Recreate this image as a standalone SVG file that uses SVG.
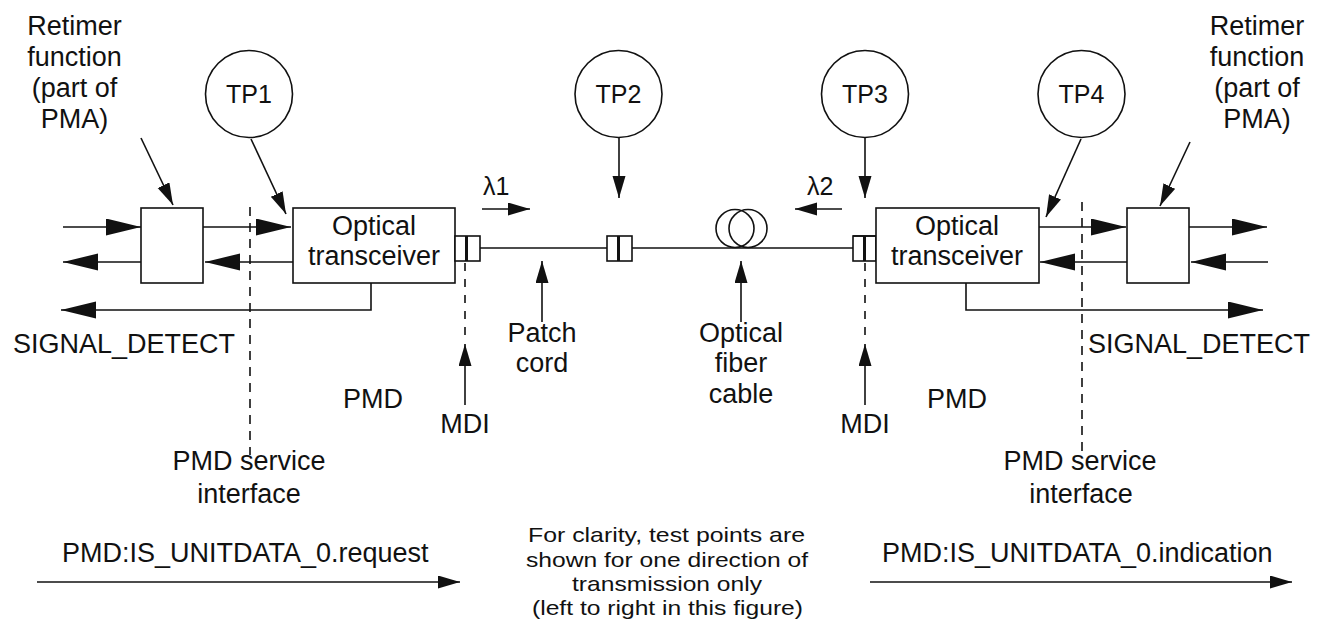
<svg xmlns="http://www.w3.org/2000/svg" width="1317" height="619" viewBox="0 0 1317 619">
<style>
text{font-family:"Liberation Sans",Arial,sans-serif;font-size:27px;fill:#111}
.c{text-anchor:middle}
.tp{font-size:25px}
.note{font-size:21px}
.ln{fill:none;stroke:#111;stroke-width:1.6}
.box{fill:#fff;stroke:#111;stroke-width:1.6}
.dash{fill:none;stroke:#111;stroke-width:1.6;stroke-dasharray:9,7}
.bar{stroke:#111;stroke-width:3}
.big{marker-end:url(#big)}
.med{marker-end:url(#med)}
</style>
<defs>
<marker id="big" markerUnits="userSpaceOnUse" markerWidth="36" markerHeight="18" refX="35" refY="8.5" orient="auto"><path d="M0,0 L35,8.5 L0,17 z" fill="#111"/></marker>
<marker id="med" markerUnits="userSpaceOnUse" markerWidth="24" markerHeight="14" refX="22" refY="6.5" orient="auto"><path d="M0,0 L22,6.5 L0,13 z" fill="#111"/></marker>
</defs>
<rect width="1317" height="619" fill="#fff"/>

<g id="connectors">
<!-- left retimer / transceiver -->
<line class="ln big" x1="63" y1="227" x2="141" y2="227"/>
<line class="ln big" x1="141" y1="262" x2="63" y2="262"/>
<line class="ln big" x1="203" y1="227" x2="291" y2="227"/>
<line class="ln big" x1="293" y1="262" x2="205" y2="262"/>
<path class="ln big" d="M371,283 V310 H61"/>
<!-- right retimer / transceiver -->
<line class="ln big" x1="1039" y1="227" x2="1126" y2="227"/>
<line class="ln big" x1="1189" y1="227" x2="1267" y2="227"/>
<line class="ln big" x1="1268" y1="262" x2="1191" y2="262"/>
<line class="ln big" x1="1127" y1="262" x2="1040" y2="262"/>
<path class="ln big" d="M966,283 V310 H1263"/>
<!-- test point pointers -->
<line class="ln med" x1="251" y1="139" x2="286" y2="214"/>
<line class="ln med" x1="141" y1="138" x2="173" y2="205"/>
<line class="ln med" x1="619" y1="138" x2="619" y2="198"/>
<line class="ln med" x1="865" y1="138" x2="865" y2="198"/>
<line class="ln med" x1="1081" y1="139" x2="1046" y2="217"/>
<line class="ln med" x1="1190" y1="142" x2="1160" y2="206"/>
<!-- wavelength arrows -->
<line class="ln med" x1="482" y1="209" x2="530" y2="209"/>
<line class="ln med" x1="842" y1="209" x2="795" y2="209"/>
<!-- label pointers -->
<line class="ln med" x1="542" y1="322" x2="542" y2="261"/>
<line class="ln med" x1="741" y1="322" x2="741" y2="261"/>
<line class="ln med" x1="465" y1="405" x2="465" y2="344"/>
<line class="ln med" x1="865" y1="405" x2="865" y2="344"/>
<!-- dashed interface lines -->
<line class="dash" x1="250" y1="207" x2="250" y2="455"/>
<line class="dash" x1="1082" y1="202" x2="1082" y2="455"/>
<line class="dash" x1="465" y1="263" x2="465" y2="336" style="stroke-dasharray:8,8"/>
<line class="dash" x1="865" y1="263" x2="865" y2="336" style="stroke-dasharray:8,8"/>
<!-- fiber -->
<line class="ln" x1="480" y1="248" x2="607" y2="248"/>
<line class="ln" x1="632" y1="248" x2="853" y2="248"/>
<!-- service primitives -->
<line class="ln med" x1="37" y1="582" x2="460" y2="582"/>
<line class="ln med" x1="870" y1="582" x2="1292" y2="582"/>
</g>

<g id="retimer-left"><rect class="box" x="141" y="208" width="62" height="75"/></g>
<g id="transceiver-left"><rect class="box" x="293" y="208" width="162" height="75"/>
<text class="c" x="374" y="235">Optical</text><text class="c" x="374" y="265">transceiver</text></g>
<g id="mdi-left"><rect class="box" x="455" y="236" width="25" height="25"/><line class="bar" x1="466.5" y1="236" x2="466.5" y2="261"/></g>
<g id="connector-mid"><rect class="box" x="607" y="236" width="25" height="25"/><line class="bar" x1="618.5" y1="236" x2="618.5" y2="261"/></g>
<g id="mdi-right"><rect class="box" x="853" y="236" width="23" height="25"/><line class="ln" x1="853" y1="236" x2="878" y2="236"/><line class="bar" x1="864.5" y1="236" x2="864.5" y2="261"/></g>
<g id="fiber-coil"><circle class="ln" cx="735" cy="228.5" r="19"/><circle class="ln" cx="748" cy="228.5" r="19"/></g>
<g id="transceiver-right"><rect class="box" x="876" y="208" width="163" height="75"/>
<text class="c" x="957" y="235">Optical</text><text class="c" x="957" y="265">transceiver</text></g>
<g id="retimer-right"><rect class="box" x="1127" y="208" width="62" height="75"/></g>

<g id="tp1"><circle class="ln" cx="249" cy="94" r="43.5"/><text class="c tp" x="249" y="103">TP1</text></g>
<g id="tp2"><circle class="ln" cx="618.5" cy="94" r="43.5"/><text class="c tp" x="618.5" y="103">TP2</text></g>
<g id="tp3"><circle class="ln" cx="865" cy="94" r="43.5"/><text class="c tp" x="865" y="103">TP3</text></g>
<g id="tp4"><circle class="ln" cx="1081.5" cy="94" r="43.5"/><text class="c tp" x="1081.5" y="103">TP4</text></g>

<g id="labels">
<text class="c" x="74.5" y="35">Retimer</text><text class="c" x="74.5" y="66">function</text><text class="c" x="74.5" y="97">(part of</text><text class="c" x="74.5" y="128">PMA)</text>
<text class="c" x="1257" y="35">Retimer</text><text class="c" x="1257" y="66">function</text><text class="c" x="1257" y="97">(part of</text><text class="c" x="1257" y="128">PMA)</text>
<text class="tp" x="483" y="195">λ1</text>
<text class="tp" x="807" y="195">λ2</text>
<text x="13" y="353">SIGNAL_DETECT</text>
<text x="1088" y="353">SIGNAL_DETECT</text>
<text class="c" x="542" y="342">Patch</text><text class="c" x="542" y="372">cord</text>
<text class="c" x="741" y="342">Optical</text><text class="c" x="741" y="372">fiber</text><text class="c" x="741" y="403">cable</text>
<text x="343" y="408">PMD</text>
<text x="927" y="408">PMD</text>
<text class="c" x="465" y="433">MDI</text>
<text class="c" x="865" y="433">MDI</text>
<text class="c" x="249" y="470">PMD service</text><text class="c" x="249" y="503">interface</text>
<text class="c" x="1080" y="470">PMD service</text><text class="c" x="1081" y="503">interface</text>
<text x="62" y="562">PMD:IS_UNITDATA_0.request</text>
<text x="882" y="562">PMD:IS_UNITDATA_0.indication</text>
<text class="note" x="528" y="542" textLength="277" lengthAdjust="spacingAndGlyphs">For clarity, test points are</text>
<text class="note" x="526" y="567" textLength="282" lengthAdjust="spacingAndGlyphs">shown for one direction of</text>
<text class="note" x="572" y="591" textLength="190" lengthAdjust="spacingAndGlyphs">transmission only</text>
<text class="note" x="532" y="615" textLength="271" lengthAdjust="spacingAndGlyphs">(left to right in this figure)</text>
</g>
</svg>
